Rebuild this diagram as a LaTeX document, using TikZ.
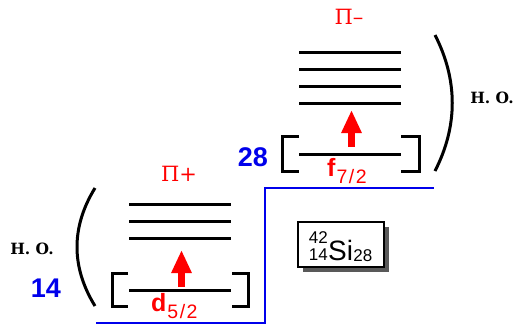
\documentclass[tikz,border=0pt]{standalone}
\usepackage{fontspec}
\setmainfont{Liberation Sans}
\newfontfamily\dvs{DejaVu Serif}
\usetikzlibrary{arrows.meta}
\definecolor{blu}{RGB}{0,0,235}
\definecolor{rd}{RGB}{255,0,0}
\tikzset{
  lvl/.style={line width=3pt},
  brk/.style={line width=3pt},
  paren/.style={line width=3pt},
  shell/.style={blu, line width=2.8pt},
  exc/.style={rd, line width=7.5pt, -{Triangle[width=19pt,length=23pt]}},
  num/.style={blu, font=\fontsize{27}{27}\selectfont\bfseries, inner sep=0pt},
  par/.style={rd, font=\dvs\fontsize{21}{21}\selectfont, inner sep=0pt},
  ho/.style={font=\dvs\fontsize{15.5}{15.5}\selectfont\bfseries, inner sep=0pt},
  orb/.style={rd, inner sep=0pt, anchor=base west},
  sc/.style={inner sep=0pt, font=\fontsize{17}{17}\selectfont}
}
\newcommand{\orbl}[2]{{\fontsize{25}{25}\selectfont\bfseries #1}\kern1pt\raisebox{-7pt}{\fontsize{19.5}{19.5}\selectfont #2}}
\begin{document}
\begin{tikzpicture}[x=1pt,y=-1pt]
\useasboundingbox (0,0) rectangle (517,325);
% lower shell
\foreach \yy in {204.5,221.5,238.5} \draw[lvl] (129,\yy) -- (231,\yy);
\coordinate (dL) at (129,290); \coordinate (dR) at (231,290);
\draw[lvl] (dL) -- (dR);
\draw[brk] (128,273) -- (112,273) -- (112,306) -- (128,306);
\draw[brk] (232,273) -- (248,273) -- (248,306) -- (232,306);
\coordinate (a1s) at (181.5,287); \coordinate (a1e) at (181.5,250);
\draw[exc] (a1s) -- (a1e);
% upper shell
\foreach \yy in {52,69,86,103} \draw[lvl] (299,\yy) -- (401,\yy);
\coordinate (fL) at (299,154); \coordinate (fR) at (401,154);
\draw[lvl] (fL) -- (fR);
\draw[brk] (299,136) -- (282,136) -- (282,171.5) -- (299,171.5);
\draw[brk] (401,136) -- (419,136) -- (419,171.5) -- (401,171.5);
\coordinate (a2s) at (351.5,147); \coordinate (a2e) at (351.5,110);
\draw[exc] (a2s) -- (a2e);
% shell closure line
\coordinate (b0) at (96,323); \coordinate (b1) at (265,323);
\coordinate (b2) at (265,188); \coordinate (b3) at (434,188);
\draw[shell] (b0) -- (b1) -- (b2) -- (b3);
% parentheses
\coordinate (p1a) at (95,188); \coordinate (p1b) at (95,306);
\draw[paren] (p1a) .. controls (71,227) and (71,267) .. (p1b);
\coordinate (p2a) at (435,35); \coordinate (p2b) at (435,171);
\draw[paren] (p2a) .. controls (458,80) and (458,126) .. (p2b);
% labels
\node[par] (pp) at (179,174) {Π+};
\node[par] (pm) at (349,17) {Π–};
\node[ho] (ho1) at (32,249) {H. O.};
\node[ho] (ho2) at (492,98) {H. O.};
\node[num] (n14) at (46,288) {14};
\node[num] (n28) at (253,157) {28};
\node[orb] (d52) at (151,311) {\orbl{d}{5\kern1.5pt/\kern1.5pt2}};
\node[orb] (f72) at (327,176) {\orbl{f}{7\kern1.5pt/\kern1.5pt2}};
% nucleus box
\fill[black!65] (303,227) rectangle (389,272);
\draw[line width=1.4pt, fill=white] (298,222) rectangle (384,267);
\node[inner sep=0pt, anchor=base west, font=\fontsize{28}{28}\selectfont] (si) at (328,260) {Si};
\node[sc, anchor=base east] (s42) at ([yshift=17]si.base west) {42};
\node[sc, anchor=base east] (s14) at (si.base west) {14};
\node[sc, anchor=base west] (s28) at ([yshift=-1]si.base east) {28};
\end{tikzpicture}
\end{document}
